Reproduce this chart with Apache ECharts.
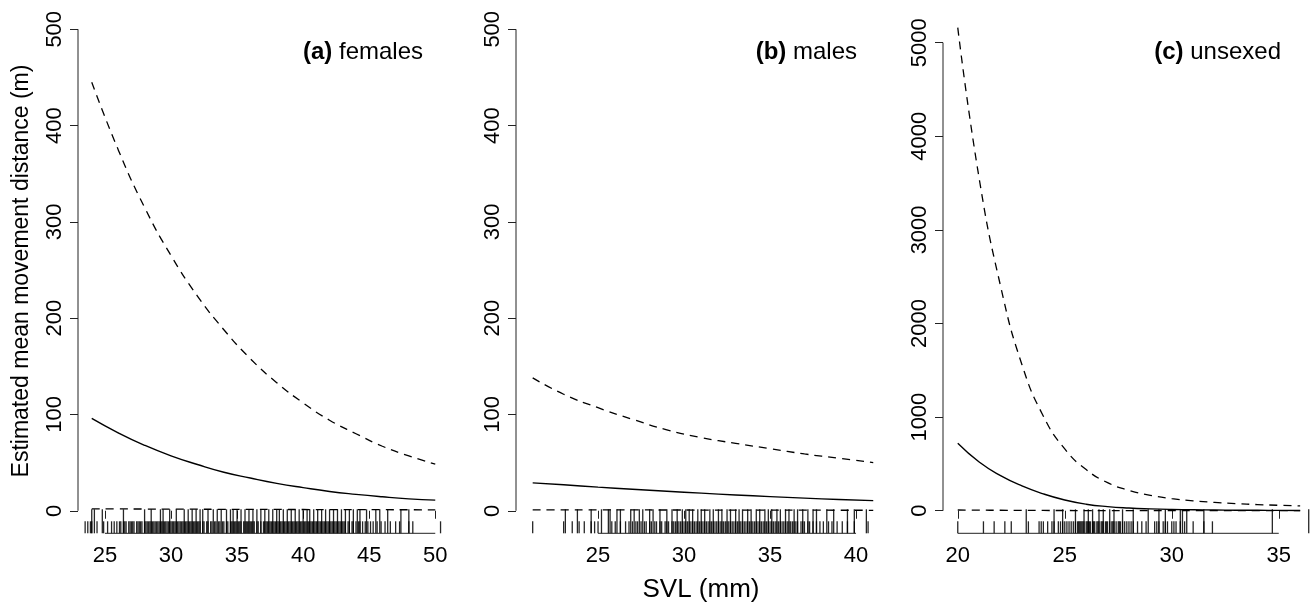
<!DOCTYPE html>
<html><head><meta charset="utf-8">
<script src="https://cdn.jsdelivr.net/npm/echarts@6/dist/echarts.min.js"></script>
<style>html,body{margin:0;padding:0;background:#fff}#c{width:1313px;height:605px}</style>
</head><body><div id="c"></div>
<script>
// ---------- data: (a) females ----------
const svlA = [24, 26, 28, 30, 32, 34, 36, 38, 40, 42, 44, 46, 48, 50];
const estA = [96, 81, 68, 57, 48, 40, 34, 28.5, 24, 20, 17, 14.5, 12.4, 11];
const upA  = [445, 375, 315, 265, 223, 188, 158, 133, 112, 94, 80, 67, 57, 48.5];
const loA  = [2.0, 1.9, 1.8, 1.7, 1.6, 1.5, 1.4, 1.35, 1.3, 1.2, 1.15, 1.1, 1.05, 1.0];
const rugShortA = [23.5,23.7,23.9,24.0,24.4,24.9,25.2,25.5,25.7,25.9,26.1,26.2,26.4,26.5,26.6,26.8,26.9,27.0,27.1,27.2,27.4,27.5,27.6,27.7,27.8,28.0,28.1,28.2,28.3,28.4,28.5,28.6,28.7,28.8,28.9,29.0,29.1,29.2,29.3,29.4,29.5,29.6,29.7,29.8,29.9,30.0,30.1,30.2,30.3,30.4,30.5,30.6,30.7,30.8,30.9,31.0,31.1,31.2,31.3,31.4,31.5,31.6,31.7,31.8,31.9,32.0,32.1,32.2,32.4,32.5,32.7,32.8,33.0,33.1,33.3,33.4,33.6,33.7,33.9,34.0,34.2,34.3,34.5,34.6,34.7,34.8,34.9,35.0,35.1,35.2,35.3,35.5,35.6,35.7,35.8,35.9,36.0,36.1,36.2,36.3,36.5,36.6,36.8,37.0,37.1,37.2,37.3,37.4,37.5,37.6,37.7,37.8,37.9,38.0,38.1,38.2,38.3,38.4,38.5,38.6,38.7,38.8,38.9,39.0,39.1,39.2,39.3,39.4,39.5,39.6,39.7,39.8,39.9,40.0,40.1,40.2,40.3,40.4,40.5,40.6,40.7,40.8,40.9,41.0,41.1,41.2,41.3,41.4,41.5,41.6,41.7,41.8,41.9,42.0,42.1,42.2,42.3,42.4,42.5,42.6,42.7,42.8,42.9,43.0,43.1,43.2,43.4,43.5,43.7,43.8,44.0,44.2,44.3,44.5,44.7,44.9,45.1,45.3,45.6,45.9,46.2,46.6,47.0,47.3,48.0,48.3,50.4];
const rugTallA = [24.0,24.2,24.8,26.4,28.0,28.5,29.2,29.4,29.9,30.4,31.0,31.3,31.6,31.9,32.2,32.4,32.8,33.2,33.5,33.8,34.2,34.5,34.7,35.0,35.3,35.6,35.9,36.2,36.5,36.8,37.1,37.4,37.7,38.0,38.2,38.5,38.8,39.1,39.4,39.7,40.0,40.3,40.5,40.8,41.1,41.4,41.7,42.0,42.3,42.6,42.9,43.2,43.5,43.8,44.1,44.3,44.8,45.5,45.8,46.4,47.4,48.0];
const xTicksA = [25, 30, 35, 40, 45, 50];
const yTicksA = [0, 100, 200, 300, 400, 500];

// ---------- data: (b) males ----------
const svlB = [21.2, 23, 25, 27, 29, 31, 33, 35, 37, 39, 41];
const estB = [29, 27, 24.5, 22.3, 20.3, 18.3, 16.4, 14.7, 13.1, 11.7, 10.5];
const upB  = [138, 121, 107, 95, 84, 76, 70, 64.5, 59, 54.5, 50];
const loB  = [1.0, 0.95, 0.9, 0.85, 0.8, 0.75, 0.7, 0.65, 0.6, 0.55, 0.5];
const rugShortB = [21.2,23.0,23.5,23.9,24.2,24.6,24.8,25.0,25.8,26.0,26.3,26.6,26.8,27.0,27.2,27.3,27.5,27.7,27.8,28.0,28.1,28.3,28.4,28.6,28.7,28.9,29.0,29.1,29.3,29.4,29.5,29.6,29.7,29.8,29.9,30.0,30.1,30.2,30.3,30.4,30.5,30.6,30.7,30.8,30.9,31.0,31.1,31.2,31.3,31.4,31.5,31.6,31.7,31.8,31.9,32.0,32.1,32.2,32.3,32.4,32.5,32.6,32.7,32.8,32.9,33.0,33.1,33.2,33.3,33.4,33.5,33.6,33.7,33.8,33.9,34.0,34.1,34.2,34.3,34.4,34.5,34.6,34.7,34.8,34.9,35.0,35.1,35.2,35.3,35.4,35.5,35.6,35.7,35.8,35.9,36.0,36.1,36.2,36.3,36.4,36.5,36.6,36.8,36.9,37.0,37.2,37.3,37.5,37.7,37.9,38.1,38.4,38.6,38.9,39.2,39.5,39.9,40.7];
const rugTallB = [23.1,23.8,24.6,25.2,25.6,25.7,26.1,26.3,26.9,27.1,27.4,27.6,28.0,28.2,28.6,29.0,29.3,29.6,29.9,30.1,30.3,30.5,30.8,31.0,31.2,31.5,31.7,32.0,32.2,32.5,32.7,33.0,33.2,33.4,33.7,33.9,34.2,34.4,34.7,34.9,35.1,35.4,35.6,35.9,36.1,36.4,36.6,36.9,37.2,37.5,37.7,38.3,38.7,39.5,39.9,40.6];
const xTicksB = [25, 30, 35, 40];
const yTicksB = [0, 100, 200, 300, 400, 500];

// ---------- data: (c) unsexed ----------
const svlC = [20, 21, 22, 23, 24, 25, 26, 27, 28, 29, 30, 31, 32, 33, 34, 35, 36];
const estC = [720, 520, 375, 265, 180, 115, 70, 44, 29, 20, 14, 10.5, 8, 6, 4.5, 3.5, 2.5];
const upC  = [5160, 3550, 2400, 1560, 1010, 660, 440, 300, 218, 165, 130, 106, 89, 76, 66, 58, 51];
const loC  = [8, 6, 5, 4, 3, 2.5, 2, 1.5, 1.2, 1, 0.8, 0.7, 0.6, 0.5, 0.4, 0.3, 0.3];
const rugShortC = [20.0,21.2,21.7,22.2,22.5,23.3,23.8,23.9,24.0,24.2,24.4,24.5,24.7,24.8,24.9,25.0,25.1,25.2,25.3,25.4,25.5,25.6,25.65,25.7,25.75,25.8,25.85,25.9,26.0,26.05,26.1,26.15,26.2,26.3,26.35,26.4,26.5,26.55,26.6,26.7,26.75,26.8,26.9,26.95,27.0,27.1,27.2,27.25,27.3,27.4,27.5,27.55,27.6,27.7,27.8,27.9,28.0,28.1,28.2,28.4,28.6,28.8,29.2,29.3,29.4,29.6,29.7,29.8,30.0,30.1,30.2,30.4,30.6,31.0,31.5,31.9];
const rugTallC = [23.2,24.5,24.9,25.5,25.9,26.1,26.3,26.6,26.8,27.1,27.3,27.7,28.2,28.9,29.4,29.7,30.4,30.5,30.7,31.5,34.7,36.4];
const xTicksC = [20, 25, 30, 35];
const yTicksC = [0, 1000, 2000, 3000, 4000, 5000];

const panelTitles = [['(a)', 'females'], ['(b)', 'males'], ['(c)', 'unsexed']];
const yTitle = 'Estimated mean movement distance (m)';
const xTitle = 'SVL (mm)';

// ---------- layout ----------
const FONT = '"Liberation Sans", Arial, Helvetica, sans-serif';
const AX = '#222';
const panels = [
  {svl: svlA, est: estA, up: upA, lo: loA, rs: rugShortA, rt: rugTallA, xt: xTicksA, yt: yTicksA,
   xMin: 22.96, xMax: 51.04, yMin: -23.4, yMax: 520, grid: {left: 78, width: 371, top: 10, bottom: 71.7}, titleRight: 423},
  {svl: svlB, est: estB, up: upB, lo: loB, rs: rugShortB, rt: rugTallB, xt: xTicksB, yt: yTicksB,
   xMin: 20.23, xMax: 41.8, yMin: -23.4, yMax: 520, grid: {left: 516, width: 371, top: 10, bottom: 71.7}, titleRight: 857},
  {svl: svlC, est: estC, up: upC, lo: loC, rs: rugShortC, rt: rugTallC, xt: xTicksC, yt: yTicksC,
   xMin: 19.31, xMax: 36.6, yMin: -241, yMax: 5349, grid: {left: 943, width: 370, top: 10, bottom: 71.7}, titleRight: 1281}
];

function rugRender(len) {
  return function (params, api) {
    const p = api.coord([api.value(0), 0]);
    const cs = params.coordSys;
    const yb = cs.y + cs.height;
    return {type: 'line', shape: {x1: p[0], y1: yb, x2: p[0], y2: yb - len},
            style: {stroke: 'rgba(0,0,0,0.85)', lineWidth: 1.3}};
  };
}

const grids = [], xAxes = [], yAxes = [], series = [], graphics = [];
panels.forEach((P, i) => {
  grids.push(P.grid);
  xAxes.push({type: 'value', gridIndex: i, min: P.xMin, max: P.xMax,
    axisLine: {show: false}, splitLine: {show: false},
    axisTick: {show: true, customValues: P.xt, length: 8, lineStyle: {color: AX, width: 1}},
    axisLabel: {show: true, customValues: P.xt, fontSize: 22, fontFamily: FONT, color: '#000', margin: 12,
      formatter: v => String(v)}});
  yAxes.push({type: 'value', gridIndex: i, min: P.yMin, max: P.yMax,
    axisLine: {show: false}, splitLine: {show: false},
    axisTick: {show: true, customValues: P.yt, length: 8, lineStyle: {color: AX, width: 1}},
    axisLabel: {show: true, customValues: P.yt, fontSize: 22, fontFamily: FONT, color: '#000', margin: 12, rotate: 90,
      formatter: v => String(v)}});
  const pair = (xs, ys) => xs.map((x, k) => [x, ys[k]]);
  const base = {type: 'line', xAxisIndex: i, yAxisIndex: i, symbol: 'none', silent: true, smooth: 0.5};
  series.push(Object.assign({}, base, {data: pair(P.svl, P.est), lineStyle: {color: '#000', width: 1.4}}));
  series.push(Object.assign({}, base, {data: pair(P.svl, P.up), lineStyle: {color: '#000', width: 1.3, type: [8, 6]}}));
  series.push(Object.assign({}, base, {data: pair(P.svl, P.lo), lineStyle: {color: '#000', width: 1.3, type: [8, 6]}}));
  series.push({type: 'custom', xAxisIndex: i, yAxisIndex: i, silent: true, clip: false,
    renderItem: rugRender(12), encode: {x: 0, y: 1}, data: P.rs.map(v => [v, 0])});
  series.push({type: 'custom', xAxisIndex: i, yAxisIndex: i, silent: true, clip: false,
    renderItem: rugRender(24), encode: {x: 0, y: 1}, data: P.rt.map(v => [v, 0])});
  // R-style axis lines spanning first..last tick
  series.push({type: 'line', xAxisIndex: i, yAxisIndex: i, symbol: 'none', silent: true, clip: false, z: 5,
    data: [[P.xt[0], P.yMin], [P.xt[P.xt.length - 1], P.yMin]], lineStyle: {color: AX, width: 1}});
  series.push({type: 'line', xAxisIndex: i, yAxisIndex: i, symbol: 'none', silent: true, clip: false, z: 5,
    data: [[P.xMin, P.yt[0]], [P.xMin, P.yt[P.yt.length - 1]]], lineStyle: {color: AX, width: 1}});
  graphics.push({type: 'text', x: P.titleRight, y: 52, silent: true,
    style: {text: '{b|' + panelTitles[i][0] + '} ' + panelTitles[i][1], align: 'right', verticalAlign: 'middle',
      font: '24px ' + FONT, fill: '#000', rich: {b: {fontWeight: 'bold', fontSize: 24, fontFamily: FONT, fill: '#000'}}}});
});
graphics.push({type: 'text', x: 22, y: 271, rotation: Math.PI / 2, silent: true,
  style: {text: yTitle, align: 'center', verticalAlign: 'middle', font: '23px ' + FONT, fill: '#000'}});
graphics.push({type: 'text', x: 701, y: 590, silent: true,
  style: {text: xTitle, align: 'center', verticalAlign: 'middle', font: '26px ' + FONT, fill: '#000'}});

const chart = echarts.init(document.getElementById('c'), null, {renderer: 'canvas'});
chart.setOption({animation: false, backgroundColor: '#fff', grid: grids, xAxis: xAxes, yAxis: yAxes, series: series, graphic: graphics});
</script></body></html>
